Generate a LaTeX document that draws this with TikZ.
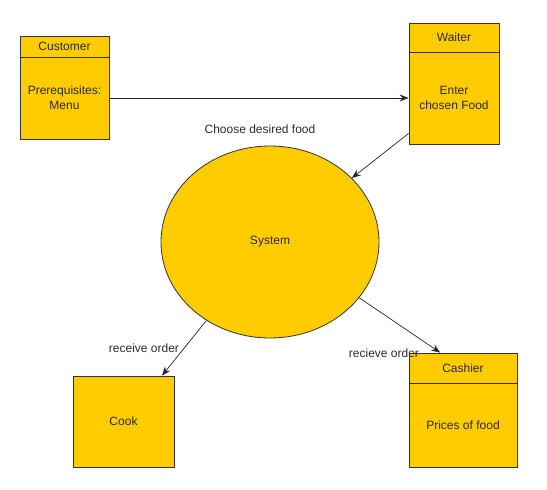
\documentclass[tikz,border=0pt]{standalone}
\usepackage{fontspec}
\setmainfont{Liberation Sans}
\usepackage{tikz}
\usetikzlibrary{arrows,arrows.meta}
\usetikzlibrary{positioning}
\usetikzlibrary{shapes.geometric}
\definecolor{dfdyellow}{HTML}{FFCC00}
\definecolor{dfdtext}{HTML}{2B2B2B}

\begin{document}
\begin{tikzpicture}
		[x=1pt,y=-1pt,
		every node/.style={text=dfdtext,font=\fontsize{12}{15}\selectfont,align=center,inner sep=0pt},
		box/.style={draw=black!80,fill=dfdyellow,line width=0.8pt,rectangle},
		flow/.style={-{Stealth[length=9pt,width=7pt,inset=3pt]},draw=black!85,line width=0.7pt}]
		\useasboundingbox (0,0) rectangle (547,490);
		% entities
		\node[box,minimum width=89,minimum height=21,text depth=-2pt] (custh) at (64.5,46.5) {Customer};
		\node[box,minimum width=89,minimum height=82] (custb) at (64.5,98) {Prerequisites:\\Menu};
		\node[box,minimum width=90,minimum height=29] (waith) at (454,37.5) {Waiter};
		\node[box,minimum width=90,minimum height=92] (waitb) at (454,98) {Enter\\chosen Food};
		\node[box,minimum width=101,minimum height=91] (cook) at (123.5,421.5) {Cook};
		\node[box,minimum width=108,minimum height=30] (cashh) at (463,368) {Cashier};
		\node[box,minimum width=108,minimum height=84] (cashb) at (463,425) {Prices of food};
		% process
		\node[box,ellipse,minimum width=218,minimum height=192] (sys) at (270,242) {System};
		% labels
		\node (l1) at (260,129) {Choose desired food};
		\node (l2) at (144,348) {receive order};
		\node (l3) at (384,353) {recieve order};
		
		\foreach \from/\to in 
		{custb/waitb, waitb.218/sys.38, sys.231/cook.50, sys.-32/cashh.146}
		\draw[flow] (\from) -- (\to);
		\end{tikzpicture}
\end{document}
